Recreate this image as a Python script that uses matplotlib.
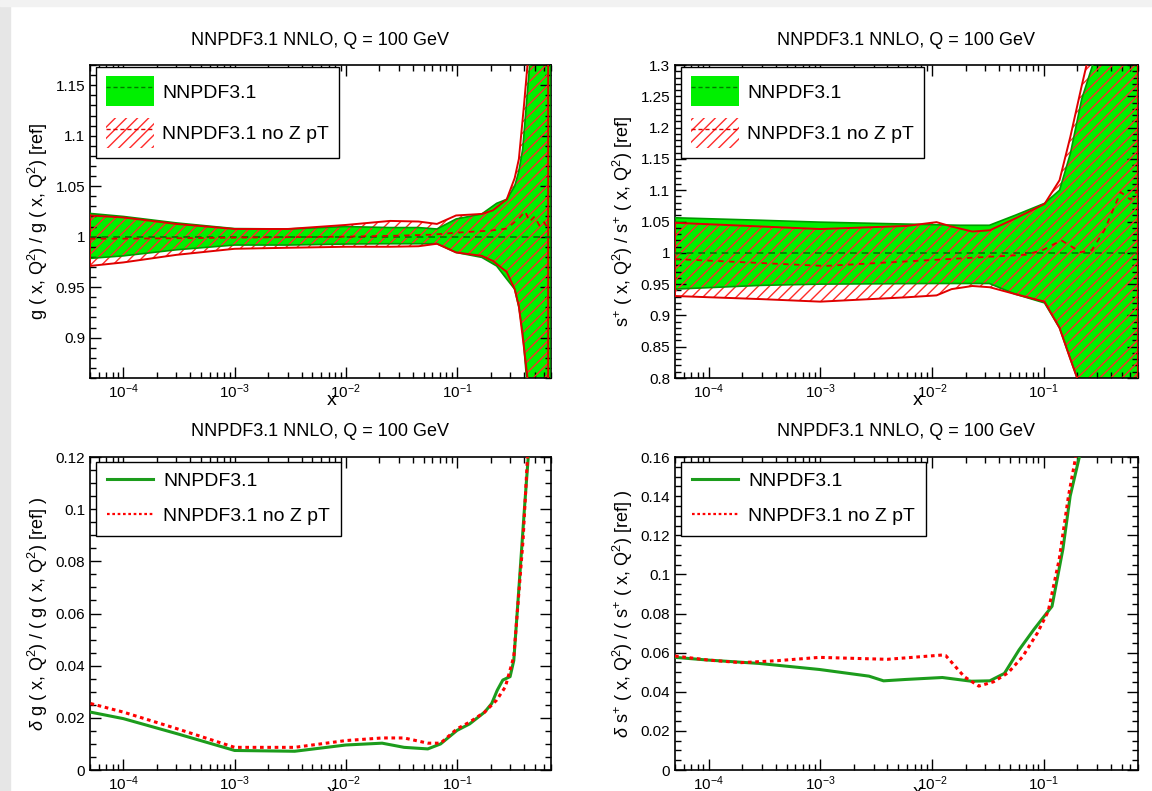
import matplotlib
matplotlib.use("Agg")
import matplotlib.pyplot as plt
from matplotlib.patches import Patch, Rectangle
from matplotlib.lines import Line2D
from matplotlib.ticker import MultipleLocator, FuncFormatter, LogLocator

plt.rcParams['font.family'] = ['Liberation Sans', 'DejaVu Sans']
plt.rcParams['mathtext.fontset'] = 'custom'
plt.rcParams['mathtext.rm'] = 'Liberation Sans'
plt.rcParams['mathtext.it'] = 'Liberation Sans:italic'
plt.rcParams['hatch.linewidth'] = 1.0
plt.rcParams['hatch.color'] = '#ff2a2a'

# ---- data: gluon ratio (top left) ----
g_x_green = [5e-5, 1e-4, 3e-4, 1e-3, 3e-3, 1e-2, 2.5e-2, 4.5e-2, 6.6e-2, 0.098, 0.167, 0.227,
             0.28, 0.33, 0.36, 0.39, 0.42, 0.45, 0.55, 0.7]
g_up_green = [1.023, 1.020, 1.0136, 1.008, 1.0076, 1.010, 1.009, 1.009, 1.0076, 1.0175, 1.0225, 1.033,
              1.037, 1.05, 1.065, 1.087, 1.13, 1.17, 1.5, 1.5]
g_lo_green = [0.9785, 0.981, 0.987, 0.9917, 0.9917, 0.9927, 0.993, 0.993, 0.993, 0.9844, 0.9795, 0.971,
              0.958, 0.948, 0.93, 0.905, 0.862, 0.83, 0.5, 0.5]
g_x_red = [5e-5, 1e-4, 3e-4, 1e-3, 3e-3, 1e-2, 2.5e-2, 4.5e-2, 6.6e-2, 0.098, 0.167, 0.21,
           0.28, 0.33, 0.36, 0.40, 0.43, 0.47, 0.66]
g_up_red = [1.021, 1.019, 1.0126, 1.0076, 1.0076, 1.0116, 1.0156, 1.015, 1.0126, 1.021, 1.0225, 1.026,
            1.037, 1.058, 1.077, 1.13, 1.17, 1.5, 1.5]
g_lo_red = [0.971, 0.9745, 0.982, 0.988, 0.989, 0.990, 0.990, 0.9905, 0.993, 0.9844, 0.981, 0.976,
            0.965, 0.948, 0.931, 0.89, 0.86, 0.5, 0.5]
g_x_cv = [5e-5, 1e-4, 1e-3, 1e-2, 3e-2, 6e-2, 0.1, 0.2, 0.28, 0.36, 0.41, 0.45, 0.5, 0.55, 0.6, 0.66]
g_cv_red = [0.998, 0.998, 0.999, 1.0, 1.001, 1.002, 1.004, 1.006, 1.008, 1.018, 1.025, 1.015, 1.02,
            1.011, 1.015, 1.008]

# ---- data: s+ ratio (top right) ----
s_x_green = [5e-5, 2.95e-4, 1e-3, 1e-2, 0.0178, 0.0327, 0.0557, 0.102, 0.139, 0.174, 0.219, 0.275,
             0.4, 0.7]
s_up_green = [1.056, 1.052, 1.049, 1.045, 1.044, 1.044, 1.06, 1.079, 1.10, 1.159, 1.245, 1.30, 1.5, 1.5]
s_lo_green = [0.942, 0.948, 0.95, 0.951, 0.951, 0.951, 0.934, 0.92, 0.88, 0.83, 0.78, 0.7, 0.5, 0.5]
s_x_red = [5e-5, 3e-4, 1e-3, 6e-3, 1.1e-2, 1.5e-2, 2.3e-2, 3.3e-2, 5.6e-2, 0.102, 0.139, 0.174,
           0.219, 0.25, 0.4, 0.7]
s_up_red = [1.048, 1.042, 1.038, 1.043, 1.049, 1.042, 1.034, 1.036, 1.055, 1.078, 1.116, 1.186,
            1.266, 1.31, 1.5, 1.5]
s_lo_red = [0.931, 0.926, 0.922, 0.929, 0.932, 0.942, 0.947, 0.945, 0.934, 0.922, 0.88, 0.83,
            0.78, 0.76, 0.5, 0.5]
s_x_cv = [5e-5, 1.1e-3, 8.8e-3, 2.8e-2, 7e-2, 0.1, 0.144, 0.215, 0.27, 0.35, 0.49, 0.6, 0.7]
s_cv_red = [0.990, 0.979, 0.988, 0.993, 0.997, 1.005, 1.020, 1.001, 1.004, 1.036, 1.097, 1.085, 1.10]

# ---- data: relative uncertainty, gluon (bottom left) ----
dg_x_green = [5.06e-5, 1e-4, 3.05e-4, 1e-3, 3.47e-3, 1e-2, 0.0212, 0.0334, 0.0546, 0.0711, 0.1, 0.13,
              0.177, 0.205, 0.23, 0.258, 0.3, 0.324, 0.363, 0.405, 0.437]
dg_green = [0.0222, 0.0197, 0.0139, 0.0075, 0.0072, 0.0096, 0.0103, 0.0087, 0.0081, 0.010, 0.0152,
            0.0177, 0.0222, 0.0255, 0.0306, 0.0345, 0.0358, 0.042, 0.0718, 0.101, 0.12]
dg_x_red = [5.06e-5, 1e-4, 3.05e-4, 1e-3, 3.47e-3, 1e-2, 0.0212, 0.0334, 0.0546, 0.0711, 0.1, 0.13,
            0.177, 0.227, 0.272, 0.324, 0.35, 0.393, 0.43]
dg_red = [0.0255, 0.0222, 0.0158, 0.0087, 0.0087, 0.0113, 0.0123, 0.0123, 0.0103, 0.0103, 0.0158,
          0.0184, 0.0222, 0.0268, 0.0319, 0.0435, 0.0615, 0.0885, 0.12]

# ---- data: relative uncertainty, s+ (bottom right) ----
ds_x_green = [5e-5, 1e-4, 2.83e-4, 9.84e-4, 2.73e-3, 3.69e-3, 5.81e-3, 1.24e-2, 2.26e-2, 3.3e-2,
              4.46e-2, 6.03e-2, 8.15e-2, 9.84e-2, 0.119, 0.149, 0.173, 0.209]
ds_green = [0.0576, 0.0562, 0.0545, 0.0514, 0.048, 0.0456, 0.0463, 0.0473, 0.0454, 0.0456, 0.0494,
            0.0614, 0.0717, 0.0777, 0.0837, 0.113, 0.140, 0.16]
ds_x_red = [5e-5, 1e-4, 1.95e-4, 4.13e-4, 9.84e-4, 3.98e-3, 1.24e-2, 1.33e-2, 1.95e-2, 2.63e-2,
            3.56e-2, 4.81e-2, 6.5e-2, 8.79e-2, 0.11, 0.138, 0.167, 0.194]
ds_red = [0.0583, 0.0562, 0.0549, 0.0559, 0.0576, 0.0566, 0.0588, 0.0585, 0.0477, 0.0429, 0.0451,
          0.0497, 0.058, 0.070, 0.0811, 0.1077, 0.140, 0.16]

title = 'NNPDF3.1 NNLO, Q = 100 GeV'
labels = ['NNPDF3.1', 'NNPDF3.1 no Z pT']
GREEN_FILL = '#00f000'
GREEN_EDGE = '#009a00'
GREEN_LINE = '#1c9c1c'
RED = '#e00000'
HATCH_RED = '#ff2a2a'

fig = plt.figure(figsize=(11.52, 7.91), dpi=100)
fig.patches.append(Rectangle((0, 0), 0.009, 1, transform=fig.transFigure, color='#e6e6e6', zorder=-5))
fig.patches.append(Rectangle((0, 0.993), 1, 0.007, transform=fig.transFigure, color='#f2f2f2', zorder=-5))

pos = {'tl': [0.0781, 0.5221, 0.4002, 0.3957], 'tr': [0.5859, 0.5221, 0.4019, 0.3957],
       'bl': [0.0781, 0.0265, 0.4002, 0.3957], 'br': [0.5859, 0.0265, 0.4019, 0.3957]}


def style_axes(ax, ylim, major, minor):
    ax.set_xscale('log')
    ax.set_xlim(5e-5, 0.7)
    ax.set_ylim(*ylim)
    ax.yaxis.set_major_locator(MultipleLocator(major))
    ax.yaxis.set_minor_locator(MultipleLocator(minor))
    ax.yaxis.set_major_formatter(FuncFormatter(lambda v, p: '%g' % round(v, 4)))
    ax.xaxis.set_minor_locator(LogLocator(base=10, subs=range(2, 10)))
    ax.tick_params(which='both', direction='in', top=True, right=True, labelsize=11, width=1.0)
    ax.tick_params(which='major', length=8)
    ax.tick_params(which='minor', length=4)
    ax.tick_params(axis='x', which='major', pad=3)
    for s in ax.spines.values():
        s.set_linewidth(1.2)
    ax.set_xlabel('x', fontsize=14)
    ax.xaxis.set_label_coords(0.525, -0.045)


def outline(ax, x, up, lo, color, lw):
    xs = list(x) + list(x)[::-1] + [x[0]]
    ys = list(up) + list(lo)[::-1] + [up[0]]
    ax.plot(xs, ys, color=color, lw=lw, zorder=4)


def band_panel(ax, xg, upg, log, xr, upr, lor, xc, cvr):
    ax.fill_between(xg, log, upg, facecolor=GREEN_FILL, edgecolor='none', zorder=1)
    outline(ax, xg, upg, log, GREEN_EDGE, 1.2)
    ax.fill_between(xr, lor, upr, facecolor='none', edgecolor=HATCH_RED, hatch='///', linewidth=0, zorder=2)
    outline(ax, xr, upr, lor, RED, 1.4)
    ax.axhline(1.0, color='#007a00', ls=(0, (4, 3)), lw=1.2, zorder=5)
    ax.plot(xc, cvr, color=RED, ls=(0, (3, 3)), lw=1.3, zorder=6)
    h1 = (Patch(facecolor=GREEN_FILL, edgecolor='none'),
          Line2D([], [], color='#007a00', ls=(0, (3, 2)), lw=1.0))
    h2 = (Patch(facecolor='none', edgecolor=HATCH_RED, hatch='///', linewidth=0),
          Line2D([], [], color=RED, ls=(0, (3, 2)), lw=1.0))
    leg = ax.legend([h1, h2], labels, loc='upper left', bbox_to_anchor=(0.013, 0.995), borderaxespad=0,
                    fontsize=14, handlelength=2.5, handleheight=2.0, labelspacing=0.6, borderpad=0.5,
                    handletextpad=0.4, fancybox=False, edgecolor='black', framealpha=1)
    leg.get_frame().set_linewidth(1.0)
    leg.set_zorder(10)


def err_panel(ax, xg, yg, xr, yr):
    ax.plot(xg, yg, color=GREEN_LINE, lw=2.2, zorder=3)
    ax.plot(xr, yr, color='#ff0000', ls=(0, (1.2, 1.2)), lw=2.2, zorder=4)
    h1 = Line2D([], [], color=GREEN_LINE, lw=2.2)
    h2 = Line2D([], [], color='#ff0000', ls=(0, (1.2, 1.2)), lw=1.6)
    leg = ax.legend([h1, h2], labels, loc='upper left', bbox_to_anchor=(0.013, 0.985), borderaxespad=0,
                    fontsize=14, handlelength=2.4, labelspacing=0.9, borderpad=0.55,
                    handletextpad=0.5, fancybox=False, edgecolor='black', framealpha=1)
    leg.get_frame().set_linewidth(1.0)


ax = fig.add_axes(pos['tl'])
style_axes(ax, (0.86, 1.17), 0.05, 0.01)
band_panel(ax, g_x_green, g_up_green, g_lo_green, g_x_red, g_up_red, g_lo_red, g_x_cv, g_cv_red)
ax.set_ylabel(r'g ( x, Q$^{2}$) / g ( x, Q$^{2}$) [ref]', fontsize=13, labelpad=4)

ax = fig.add_axes(pos['tr'])
style_axes(ax, (0.8, 1.3), 0.05, 0.01)
band_panel(ax, s_x_green, s_up_green, s_lo_green, s_x_red, s_up_red, s_lo_red, s_x_cv, s_cv_red)
ax.set_ylabel(r's$^{+}$ ( x, Q$^{2}$) / s$^{+}$ ( x, Q$^{2}$) [ref]', fontsize=13, labelpad=4)

ax = fig.add_axes(pos['bl'])
style_axes(ax, (0, 0.12), 0.02, 0.005)
err_panel(ax, dg_x_green, dg_green, dg_x_red, dg_red)
ax.set_ylabel(r'$\delta$ g ( x, Q$^{2}$) / ( g ( x, Q$^{2}$) [ref] )', fontsize=13, labelpad=4)

ax = fig.add_axes(pos['br'])
style_axes(ax, (0, 0.16), 0.02, 0.005)
err_panel(ax, ds_x_green, ds_green, ds_x_red, ds_red)
ax.set_ylabel(r'$\delta$ s$^{+}$ ( x, Q$^{2}$) / ( s$^{+}$ ( x, Q$^{2}$) [ref] )', fontsize=13, labelpad=4)

for p, yt in [('tl', 0.949), ('tr', 0.949), ('bl', 0.454), ('br', 0.454)]:
    l, b, w, h = pos[p]
    fig.text(l + w / 2, yt, title, ha='center', va='center', fontsize=13)

fig.savefig('out.png', dpi=100, facecolor='white')
